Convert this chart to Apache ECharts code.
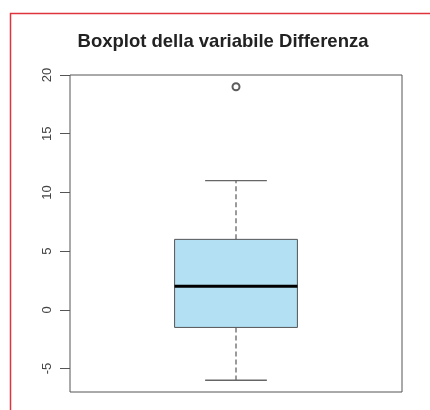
<!DOCTYPE html>
<html>
<head>
<meta charset="utf-8">
<script src="https://cdn.jsdelivr.net/npm/echarts@6/dist/echarts.min.js"></script>
<style>
  html, body { margin: 0; padding: 0; background: #fff; }
  #chart { width: 430px; height: 410px; }
</style>
</head>
<body>
<div id="chart"></div>
<script>
// dati del boxplot (min, Q1, mediana, Q3, max)
const categories = ['Differenza'];
const boxStats = [[-6, -1.5, 2, 6, 11]];
const outliers = [[0, 19]];
const yTicks = [-5, 0, 5, 10, 15, 20];

const chart = echarts.init(document.getElementById('chart'));

const renderBox = function (params, api) {
  const x = api.value(0);
  const band = api.size([1, 0])[0];
  const half = band * 0.185;
  const cap = band * 0.093;
  const pMin = api.coord([x, api.value(1)]);
  const pQ1 = api.coord([x, api.value(2)]);
  const pMed = api.coord([x, api.value(3)]);
  const pQ3 = api.coord([x, api.value(4)]);
  const pMax = api.coord([x, api.value(5)]);
  const cx = pMed[0];
  const whisker = { stroke: '#666', lineWidth: 1.3, lineDash: [5, 3] };
  const solid = { stroke: '#666', lineWidth: 1.3 };
  return {
    type: 'group',
    children: [
      { type: 'line', shape: { x1: cx, y1: pQ3[1], x2: cx, y2: pMax[1] }, style: whisker },
      { type: 'line', shape: { x1: cx, y1: pQ1[1], x2: cx, y2: pMin[1] }, style: whisker },
      { type: 'line', shape: { x1: cx - cap, y1: pMax[1], x2: cx + cap, y2: pMax[1] }, style: solid },
      { type: 'line', shape: { x1: cx - cap, y1: pMin[1], x2: cx + cap, y2: pMin[1] }, style: solid },
      {
        type: 'rect',
        shape: { x: cx - half, y: pQ3[1], width: half * 2, height: pQ1[1] - pQ3[1] },
        style: { fill: '#b3e0f2', stroke: '#555', lineWidth: 1 }
      },
      { type: 'line', shape: { x1: cx - half, y1: pMed[1], x2: cx + half, y2: pMed[1] }, style: { stroke: '#000', lineWidth: 3 } }
    ]
  };
};

const option = {
  animation: false,
  backgroundColor: '#fff',
  graphic: [
    {
      type: 'polyline',
      shape: { points: [[10.5, 410], [10.5, 13.5], [430, 13.5]] },
      style: { stroke: '#e0343c', lineWidth: 1.5, fill: null }
    },
    {
      type: 'text',
      x: 223,
      y: 42,
      style: {
        text: 'Boxplot della variabile Differenza',
        font: 'bold 18.5px "Liberation Sans", Arial, sans-serif',
        fill: '#222',
        textAlign: 'center',
        textVerticalAlign: 'middle'
      }
    }
  ],
  grid: {
    left: 70,
    right: 28,
    top: 75,
    bottom: 18,
    show: true,
    borderColor: '#555',
    borderWidth: 1
  },
  xAxis: {
    type: 'category',
    data: categories,
    axisLine: { show: false },
    axisTick: { show: false },
    axisLabel: { show: false },
    splitLine: { show: false }
  },
  yAxis: {
    type: 'value',
    min: -7,
    max: 20,
    axisLine: { show: false },
    splitLine: { show: false },
    axisTick: {
      show: true,
      length: 10,
      customValues: yTicks,
      lineStyle: { color: '#555', width: 1 }
    },
    axisLabel: {
      customValues: yTicks,
      rotate: 90,
      margin: 16,
      color: '#444',
      fontSize: 13,
      fontFamily: '"Liberation Sans", Arial, sans-serif'
    }
  },
  series: [
    {
      type: 'custom',
      renderItem: renderBox,
      data: boxStats.map((s, i) => [i].concat(s)),
      encode: { x: 0, y: [1, 2, 3, 4, 5] },
      z: 2
    },
    {
      type: 'scatter',
      data: outliers,
      symbol: 'emptyCircle',
      symbolSize: 7,
      itemStyle: { color: '#333', borderWidth: 1.3 },
      z: 3
    }
  ]
};

chart.setOption(option);
</script>
</body>
</html>
